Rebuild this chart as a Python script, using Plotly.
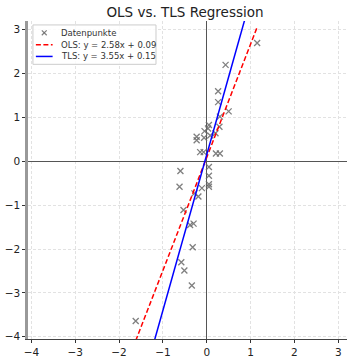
import numpy as np
import plotly.graph_objects as go

x_data = [1.15, 0.43, 0.26, 0.26, 0.50, 0.30, 0.29, 0.05, 0.03, -0.05, 0.08, 0.20,
          -0.23, -0.23, -0.06, -0.15, -0.07, 0.21, 0.30, -0.60, 0.05, 0.05, -0.62,
          -0.11, 0.05, 0.05, -0.28, -0.19, -0.53, -0.30, -0.38, -0.32, -0.58, -0.51,
          -0.34, -1.62]
y_data = [2.70, 2.20, 1.60, 1.35, 1.14, 1.02, 0.79, 0.83, 0.75, 0.69, 0.59, 0.64,
          0.56, 0.48, 0.54, 0.21, 0.21, 0.18, 0.18, -0.22, -0.13, -0.33, -0.58,
          -0.61, -0.52, -0.58, -0.73, -0.80, -1.11, -1.42, -1.45, -1.96, -2.30, -2.49,
          -2.83, -3.64]

ols_slope, ols_intercept = 2.58, 0.09
tls_slope, tls_intercept = 3.55, 0.15

x_ticks = [-4, -3, -2, -1, 0, 1, 2, 3]
y_ticks = [-4, -3, -2, -1, 0, 1, 2, 3]

legend_labels = ["Datenpunkte",
                 f"OLS: y = {ols_slope:.2f}x + {ols_intercept:.2f}",
                 f"TLS: y = {tls_slope:.2f}x + {tls_intercept:.2f}"]

W, H = 352, 363
ML, MR, MT, MB = 23, 5, 21, 19
PW, PH = W - ML - MR, H - MT - MB


def px(x):
    return (x - ML) / PW


def py(y):
    return (H - MB - y) / PH


xl = np.linspace(min(x_data), max(x_data), 100)
marker_col = "rgba(105,105,105,0.85)"

fig = go.Figure()
fig.add_trace(go.Scatter(
    x=x_data, y=y_data, mode="markers", name=legend_labels[0], showlegend=False,
    marker=dict(symbol="x-thin", size=6, color=marker_col,
                line=dict(width=1.3, color=marker_col))))
fig.add_trace(go.Scatter(
    x=xl, y=ols_slope * xl + ols_intercept, mode="lines", name=legend_labels[1],
    showlegend=False, line=dict(color="red", dash="5px,2.5px", width=1.5)))
fig.add_trace(go.Scatter(
    x=xl, y=tls_slope * xl + tls_intercept, mode="lines", name=legend_labels[2],
    showlegend=False, line=dict(color="blue", width=1.5)))

axis_common = dict(
    showgrid=True, gridcolor="#e2e2e2", griddash="3px,2px", gridwidth=1,
    zeroline=True, zerolinecolor="#555555", zerolinewidth=1,
    ticks="outside", ticklen=3, tickcolor="#333333",
    tickfont=dict(family="DejaVu Sans", size=10.5, color="#222222"),
)

fig.update_xaxes(range=[-4.077, 3.2], tickvals=x_ticks,
                 showline=True, linecolor="#444444", linewidth=1, **axis_common)
fig.update_yaxes(range=[-4.05, 3.2], tickvals=y_ticks,
                 showline=True, linecolor="#999999", linewidth=2.5, **axis_common)

# manual compact legend (matplotlib style)
shapes = [dict(type="rect", xref="paper", yref="paper",
               x0=px(28), x1=px(153), y0=py(65), y1=py(25),
               line=dict(color="#cccccc", width=1), fillcolor="rgba(255,255,255,0.85)",
               layer="above")]
shapes += [dict(type="line", xref="paper", yref="paper", x0=px(37), x1=px(42),
                y0=py(30.5), y1=py(35.5), line=dict(color=marker_col, width=1.2)),
           dict(type="line", xref="paper", yref="paper", x0=px(37), x1=px(42),
                y0=py(35.5), y1=py(30.5), line=dict(color=marker_col, width=1.2))]
shapes += [dict(type="line", xref="paper", yref="paper", x0=px(31), x1=px(48),
                y0=py(45), y1=py(45), line=dict(color="red", width=1.5, dash="5px,2.5px")),
           dict(type="line", xref="paper", yref="paper", x0=px(31), x1=px(48),
                y0=py(57), y1=py(57), line=dict(color="blue", width=1.5))]

annotations = []
for lab, yy in zip(legend_labels, [33, 45, 57]):
    annotations.append(dict(text=lab, xref="paper", yref="paper", x=px(54), y=py(yy),
                            xanchor="left", yanchor="middle", showarrow=False,
                            font=dict(family="DejaVu Sans", size=8.5, color="#333333")))

fig.update_layout(
    width=W, height=H,
    margin=dict(l=ML, r=MR, t=MT, b=MB),
    paper_bgcolor="white", plot_bgcolor="white",
    title=dict(text="OLS vs. TLS Regression", x=(185 / W), xanchor="center",
               y=1 - 12 / H, yanchor="middle",
               font=dict(family="DejaVu Sans", size=13.5, color="#222222")),
    shapes=shapes, annotations=annotations,
    showlegend=False,
)

fig.write_html("out.html")
